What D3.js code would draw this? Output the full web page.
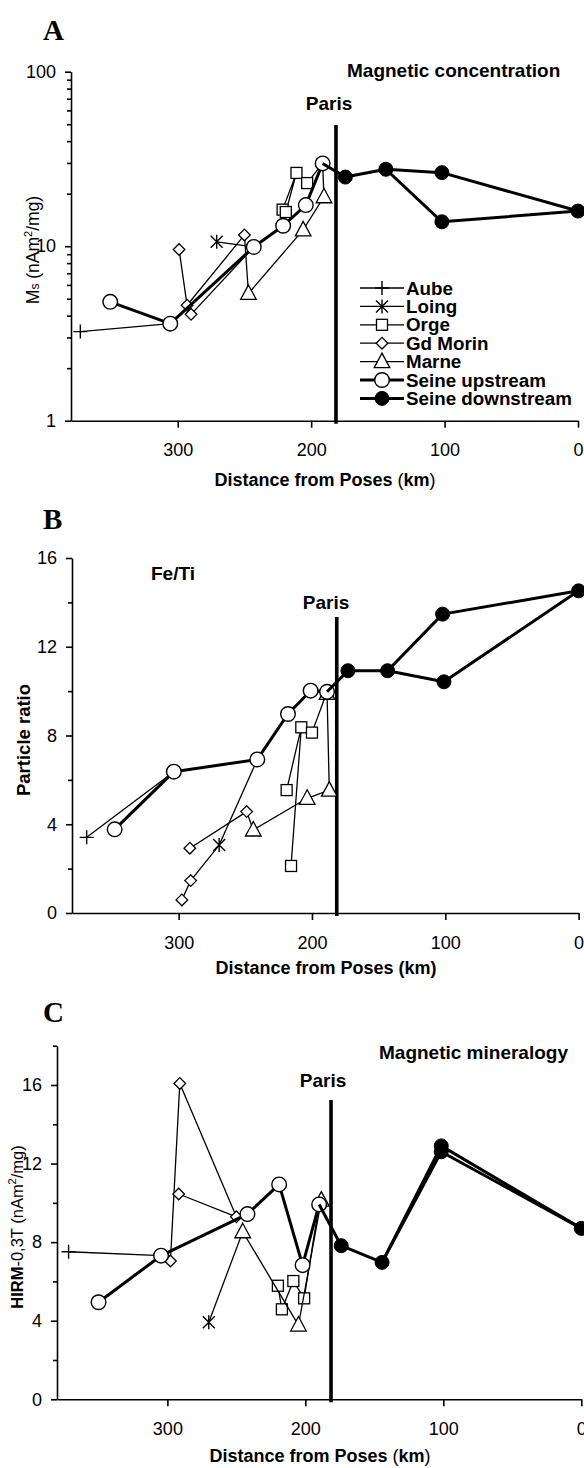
<!DOCTYPE html>
<html><head><meta charset="utf-8">
<script src="https://cdn.jsdelivr.net/npm/d3@7"></script>
<style>
body{margin:0;background:#fff}
text{font-family:"Liberation Sans",Arial,sans-serif;fill:#000}
</style>
</head><body>
<svg id="c" width="584" height="1468"></svg>
<script>
// ---------------- DATA ----------------
const seriesNames = ["Aube","Loing","Orge","Gd Morin","Marne","Seine upstream","Seine downstream"];
const xTickVals = [300,200,100,0];
const parisKm = 181.4;
const yMajorA = [1,10,100];
const yMinorA = [2,3,4,5,6,7,8,9,20,30,40,50,60,70,80,90];
const yMajorB = [0,4,8,12,16];
const yMinorB = [2,6,10,14];
const yMajorC = [0,4,8,12,16];
const yMinorC = [2,6,10,14,18];

// Panel A : Ms (nAm2/mg), [km, value]
const aubeA_pts = [[373,3.24]];
const aubeA_lines = [[[373,3.24],[305.6,3.6]]];
const loingA_pts = [[270.8,10.6]];
const loingA_lines = [[[270.8,10.6],[243,9.9]]];
const orgeA_pts = [[221.4,16.2],[219,15.7],[211,26.3],[203,23]];
const orgeA_lines = [[[221.4,16.2],[211,26.3],[219,15.7]],[[203,23],[191.4,29.8]]];
const morinA_pts = [[299,9.57],[293,4.59],[290,4.07],[250,11.6]];
const morinA_lines = [[[299,9.57],[293,4.59],[250,11.6],[247,5.36]],[[290,4.07],[243,9.9]]];
const marneA_pts = [[247,5.36],[206,12.4],[190.4,19.2]];
const marneA_lines = [[[247,5.36],[206,12.4],[190.4,19.2],[191.4,29.8]]];
const seineUpA_pts = [[350.6,4.8],[305.6,3.6],[243,9.9],[221,13.1],[204,17.2],[191.4,29.8]];
const seineUpA_lines = [seineUpA_pts];
const seineDownA_pts = [[174.4,24.9],[144,27.6],[102,26.4],[102,13.8],[0,15.9]];
const seineDownA_lines = [[[191.4,29.8],[174.4,24.9],[144,27.6],[102,26.4],[0,15.9]],[[144,27.6],[102,13.8],[0,15.9]]];

// Panel B : Fe/Ti particle ratio
const aubeB_pts = [[369,3.41]];
const aubeB_lines = [[[369,3.41],[303.6,6.37]]];
const loingB_pts = [[269.6,3.06]];
const loingB_lines = [[[269.6,3.06],[241,6.92]]];
const orgeB_pts = [[219,5.54],[208,8.37],[215.7,2.12],[200,8.13]];
const orgeB_lines = [[[219,5.54],[208,8.37],[215.7,2.12]],[[200,8.13],[188.7,9.97]]];
const morinB_pts = [[297.6,0.59],[291,1.46],[291.6,2.92],[249,4.57]];
const morinB_lines = [[[297.6,0.59],[291,1.46],[269.6,3.06]],[[291.6,2.92],[249,4.57],[244,3.74]]];
const marneB_pts = [[244,3.74],[203.6,5.17],[187,5.54],[188.7,9.9]];
const marneB_lines = [[[244,3.74],[203.6,5.17],[187,5.54],[188.7,9.9]]];
const seineUpB_pts = [[348,3.77],[303.6,6.37],[241,6.92],[218,8.97],[201,10.02],[188.7,9.97]];
const seineUpB_lines = [seineUpB_pts];
const seineDownB_pts = [[173,10.92],[143.3,10.92],[102,13.47],[101,10.42],[0,14.52]];
const seineDownB_lines = [[[188.7,9.97],[173,10.92],[143.3,10.92],[102,13.47],[0,14.52]],[[143.3,10.92],[101,10.42],[0,14.52]]];

// Panel C : HIRM-0,3T (nAm2/mg)
const aubeC_pts = [[371.6,7.51]];
const aubeC_lines = [[[371.6,7.51],[304.6,7.31]]];
const loingC_pts = [[270,3.92]];
const loingC_lines = [[[270,3.92],[245.4,8.53]]];
const orgeC_pts = [[219.9,5.78],[217,4.58],[208.7,6.02],[200.9,5.14]];
const orgeC_lines = [[[219.9,5.78],[217,4.58],[208.7,6.02],[200.9,5.14],[190,9.92]]];
const morinC_pts = [[297.8,7.04],[291,16.08],[291.8,10.45],[250,9.29]];
const morinC_lines = [[[297.8,7.04],[291,16.08],[250,9.29]],[[291.8,10.45],[250,9.29]]];
const marneC_pts = [[245.4,8.53],[205,3.78],[188.4,10.14]];
const marneC_lines = [[[245.4,8.53],[205,3.78],[188.4,10.14]]];
const seineUpC_pts = [[349.9,4.94],[304.6,7.31],[242,9.43],[219,10.94],[202,6.83],[190,9.92]];
const seineUpC_lines = [seineUpC_pts];
const seineDownC_pts = [[174,7.82],[144.4,6.97],[101.5,12.9],[101.5,12.6],[0,8.7]];
const seineDownC_lines = [[[190,9.92],[174,7.82],[144.4,6.97],[101.5,12.9],[0,8.7]],[[144.4,6.97],[101.5,12.6],[0,8.7]]];

// ---------------- DRAWING ----------------
const svg = d3.select("#c");
const markerType = {"Aube":"plus","Loing":"star","Orge":"square","Gd Morin":"diamond","Marne":"triangle","Seine upstream":"circle","Seine downstream":"filled"};
const lineW = {"Aube":1.3,"Loing":1.3,"Orge":1.3,"Gd Morin":1.3,"Marne":1.3,"Seine upstream":3,"Seine downstream":3};

function drawMarker(g, type, x, y){
  const s = g.append("g").attr("transform",`translate(${x},${y})`);
  if(type==="plus"){
    s.append("path").attr("d","M-7,0H7M0,-7V7").attr("stroke","#000").attr("stroke-width",1.4).attr("fill","none");
  } else if(type==="star"){
    s.append("path").attr("d","M0,-7V7M-6,-6L6,6M-6,6L6,-6").attr("stroke","#000").attr("stroke-width",1.4).attr("fill","none");
  } else if(type==="square"){
    s.append("rect").attr("x",-5.5).attr("y",-5.5).attr("width",11).attr("height",11).attr("fill","#fff").attr("stroke","#000").attr("stroke-width",1.3);
  } else if(type==="diamond"){
    s.append("path").attr("d","M0,-5.8L5.8,0L0,5.8L-5.8,0Z").attr("fill","#fff").attr("stroke","#000").attr("stroke-width",1.3);
  } else if(type==="triangle"){
    s.append("path").attr("d","M0,-8.5L7.8,6L-7.8,6Z").attr("fill","#fff").attr("stroke","#000").attr("stroke-width",1.3);
  } else if(type==="circle"){
    s.append("circle").attr("r",7.3).attr("fill","#fff").attr("stroke","#000").attr("stroke-width",1.4);
  } else if(type==="filled"){
    s.append("circle").attr("r",7).attr("fill","#000").attr("stroke","#000").attr("stroke-width",1);
  }
}

function drawPanel(cfg){
  const g = svg.append("g");
  const x = d3.scaleLinear().domain([380,0]).range(cfg.xRange);
  const y = cfg.log ? d3.scaleLog().domain(cfg.yDomain).range(cfg.yRange)
                    : d3.scaleLinear().domain(cfg.yDomain).range(cfg.yRange);
  const y0 = cfg.yRange[0];

  // panel letter
  g.append("text").attr("x",cfg.letterX).attr("y",cfg.letterY).text(cfg.letter)
    .style("font-family","'Liberation Serif','Times New Roman',serif").style("font-weight","bold").style("font-size","29px");

  // x axis
  const xa = g.append("g").attr("transform",`translate(0,${y0})`)
    .call(d3.axisBottom(x).tickValues(xTickVals).tickSize(7).tickSizeOuter(0).tickPadding(16).tickFormat(d3.format("d")));
  // y axis
  const ya = g.append("g").attr("transform",`translate(${cfg.xRange[0]},0)`)
    .call(d3.axisLeft(y).tickValues(cfg.yMajor).tickSize(6).tickSizeOuter(0).tickPadding(9).tickFormat(d=>String(d)));
  const ym = g.append("g").attr("transform",`translate(${cfg.xRange[0]},0)`)
    .call(d3.axisLeft(y).tickValues(cfg.yMinor).tickSize(4).tickSizeOuter(0).tickFormat(""));
  ym.select(".domain").remove();
  [xa,ya,ym].forEach(a=>{
    a.selectAll("path,line").attr("stroke","#000").attr("stroke-width",1.6);
    a.selectAll("text").style("font-size","18px").style("font-family","'Liberation Sans',Arial,sans-serif").attr("fill","#000");
  });

  // x title
  const xt = g.append("text").attr("x",cfg.xTitleX).attr("y",cfg.xTitleY).attr("text-anchor","middle")
    .style("font-size","18px").style("font-weight","bold");
  xt.append("tspan").text("Distance from Poses ");
  if(cfg.thinParen){
    xt.append("tspan").style("font-weight","normal").text("(");
    xt.append("tspan").text("km");
    xt.append("tspan").style("font-weight","normal").text(")");
  } else {
    xt.append("tspan").text("(km)");
  }

  // y title
  cfg.yTitle(g);

  // annotations
  cfg.notes.forEach(n=>{
    g.append("text").attr("x",n.x).attr("y",n.y).attr("text-anchor",n.anchor||"start")
      .style("font-size","19px").style("font-weight","bold").text(n.t);
  });

  // Paris line
  g.append("line").attr("x1",x(parisKm)).attr("x2",x(parisKm)).attr("y1",cfg.parisTop).attr("y2",y0+3)
    .attr("stroke","#000").attr("stroke-width",3.6);

  // series
  const line = d3.line().x(d=>x(d[0])).y(d=>y(d[1]));
  cfg.series.forEach(s=>{
    s.lines.forEach(l=>{
      g.append("path").attr("d",line(l)).attr("fill","none").attr("stroke","#000")
        .attr("stroke-width",lineW[s.name]).attr("stroke-linejoin","round");
    });
    s.pts.forEach(p=>drawMarker(g, markerType[s.name], x(p[0]), y(p[1])));
  });

  if(cfg.legend){
    const lg = g.append("g");
    seriesNames.forEach((nm,i)=>{
      const cy = cfg.legend.y + i*cfg.legend.dy;
      lg.append("line").attr("x1",cfg.legend.x).attr("x2",cfg.legend.x+44).attr("y1",cy).attr("y2",cy)
        .attr("stroke","#000").attr("stroke-width",lineW[nm]);
      drawMarker(lg, markerType[nm], cfg.legend.x+22, cy);
      lg.append("text").attr("x",cfg.legend.x+46).attr("y",cy+6.5).style("font-size","18.8px").style("font-weight","bold").text(nm);
    });
  }
}

function seriesList(a){ return seriesNames.map((nm,i)=>({name:nm, pts:a[i][0], lines:a[i][1]})); }

// Panel A
drawPanel({
  letter:"A", letterX:43, letterY:40,
  xRange:[71,578], log:true, yDomain:[1,100], yRange:[420.7,71.7],
  yMajor:yMajorA, yMinor:yMinorA,
  xTitleX:325, xTitleY:486, thinParen:true,
  yTitle:g=>{
    const t=g.append("text").attr("transform","translate(39,250) rotate(-90)").attr("text-anchor","middle").style("font-size","17.5px");
    t.append("tspan").text("M");
    t.append("tspan").style("font-size","12px").text("s");
    t.append("tspan").text(" (nAm");
    t.append("tspan").attr("dy",-7).style("font-size","11px").text("2");
    t.append("tspan").attr("dy",7).text("/mg)");
  },
  notes:[{t:"Magnetic concentration",x:347,y:77},{t:"Paris",x:329,y:110,anchor:"middle"}],
  parisTop:125,
  series:seriesList([[aubeA_pts,aubeA_lines],[loingA_pts,loingA_lines],[orgeA_pts,orgeA_lines],[morinA_pts,morinA_lines],[marneA_pts,marneA_lines],[seineUpA_pts,seineUpA_lines],[seineDownA_pts,seineDownA_lines]]),
  legend:{x:360,y:288,dy:18.4}
});

// Panel B
drawPanel({
  letter:"B", letterX:43, letterY:529,
  xRange:[72,578.6], log:false, yDomain:[0,16], yRange:[913,558],
  yMajor:yMajorB, yMinor:yMinorB,
  xTitleX:326, xTitleY:974, thinParen:false,
  yTitle:g=>{
    g.append("text").attr("transform","translate(30,740) rotate(-90)").attr("text-anchor","middle")
      .style("font-size","18.5px").style("font-weight","bold").text("Particle ratio");
  },
  notes:[{t:"Fe/Ti",x:151,y:580},{t:"Paris",x:326,y:609,anchor:"middle"}],
  parisTop:617,
  series:seriesList([[aubeB_pts,aubeB_lines],[loingB_pts,loingB_lines],[orgeB_pts,orgeB_lines],[morinB_pts,morinB_lines],[marneB_pts,marneB_lines],[seineUpB_pts,seineUpB_lines],[seineDownB_pts,seineDownB_lines]])
});

// Panel C
drawPanel({
  letter:"C", letterX:43, letterY:1022,
  xRange:[57,581.3], log:false, yDomain:[0,18], yRange:[1399.3,1045.7],
  yMajor:yMajorC, yMinor:yMinorC,
  xTitleX:320, xTitleY:1462, thinParen:true,
  yTitle:g=>{
    const t=g.append("text").attr("transform","translate(23,1227) rotate(-90)").attr("text-anchor","middle").style("font-size","16.5px");
    t.append("tspan").style("font-weight","bold").text("HIRM");
    t.append("tspan").text("-0,3T (nAm");
    t.append("tspan").attr("dy",-7).style("font-size","11px").text("2");
    t.append("tspan").attr("dy",7).text("/mg)");
  },
  notes:[{t:"Magnetic mineralogy",x:379,y:1059},{t:"Paris",x:323,y:1087,anchor:"middle"}],
  parisTop:1100,
  series:seriesList([[aubeC_pts,aubeC_lines],[loingC_pts,loingC_lines],[orgeC_pts,orgeC_lines],[morinC_pts,morinC_lines],[marneC_pts,marneC_lines],[seineUpC_pts,seineUpC_lines],[seineDownC_pts,seineDownC_lines]])
});
</script>
</body></html>
